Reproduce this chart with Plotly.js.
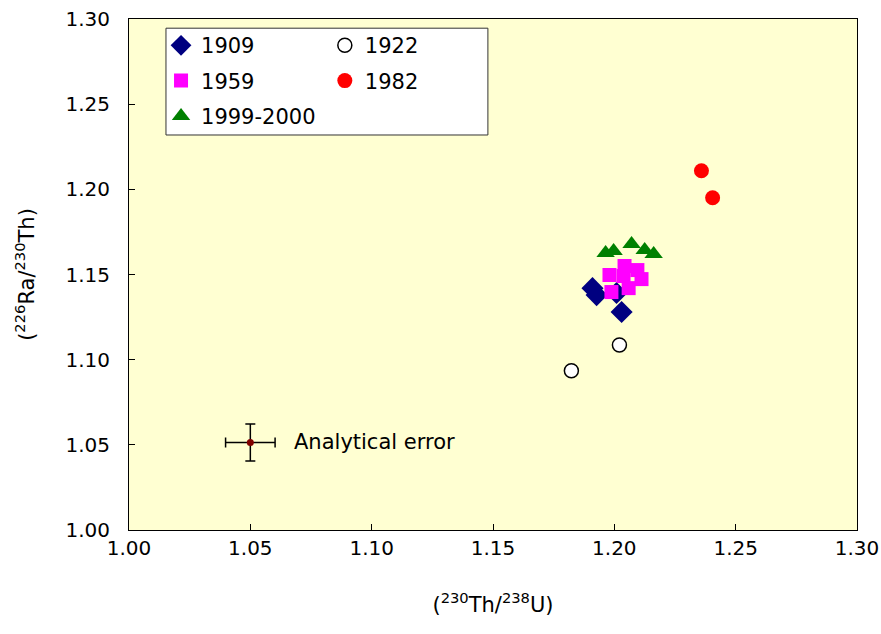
<!DOCTYPE html>
<html><head><meta charset="utf-8">
<script src="https://cdn.plot.ly/plotly-3.0.1.min.js"></script>
<style>html,body{margin:0;padding:0;background:#fff}</style>
</head><body>
<div id="chart" style="width:881px;height:634px"></div>
<script>
const x1909 = [1.1910, 1.1927, 1.2009, 1.2030];
const y1909 = [1.1420, 1.1379, 1.1391, 1.1280];
const x1922 = [1.2021, 1.1823];
const y1922 = [1.1086, 1.0935];
const x1959 = [1.2042, 1.1980, 1.2112, 1.2059, 1.1988, 1.2038, 1.2095];
const y1959 = [1.1550, 1.1497, 1.1473, 1.1420, 1.1397, 1.1491, 1.1526];
const x1982 = [1.2359, 1.2405];
const y1982 = [1.2109, 1.1951];
const x1999 = [1.1964, 1.1997, 1.2071, 1.2125, 1.2162];
const y1999 = [1.1626, 1.1638, 1.1679, 1.1644, 1.1620];
const errX = [1.05], errY = [1.0514], errDx = [0.0102], errDy = [0.0109];
const xTicks = [1.00, 1.05, 1.10, 1.15, 1.20, 1.25, 1.30];
const yTicks = [1.00, 1.05, 1.10, 1.15, 1.20, 1.25, 1.30];

const FONT = 'DejaVu Sans, Arial, sans-serif';

const traces = [
  {x:x1909, y:y1909, name:'1909', mode:'markers', type:'scatter', legend:'legend', legendgroup:'g1',
   marker:{symbol:'diamond', size:17, color:'#000080'}},
  {x:x1959, y:y1959, name:'1959', mode:'markers', type:'scatter', legend:'legend', legendgroup:'g2',
   marker:{symbol:'square', size:14, color:'#FF00FF'}},
  {x:x1999, y:y1999, name:'1999-2000', mode:'markers', type:'scatter', legend:'legend', legendgroup:'g3',
   marker:{symbol:'triangle-up', size:16, color:'#008000'}},
  {x:x1922, y:y1922, name:'1922', mode:'markers', type:'scatter', legend:'legend2', legendgroup:'g4',
   marker:{symbol:'circle', size:14, color:'#FFFFFF', line:{color:'#000000', width:1.5}}},
  {x:x1982, y:y1982, name:'1982', mode:'markers', type:'scatter', legend:'legend2', legendgroup:'g5',
   marker:{symbol:'circle', size:15, color:'#FF0000'}},
  {x:errX, y:errY, mode:'markers', type:'scatter', showlegend:false,
   marker:{symbol:'circle', size:7, color:'#800000'},
   error_x:{type:'data', array:errDx, visible:true, color:'#000000', thickness:1.5, width:5},
   error_y:{type:'data', array:errDy, visible:true, color:'#000000', thickness:1.5, width:5}}
];

const axisBase = {showline:true, linecolor:'#000', linewidth:1, mirror:true, ticks:'inside',
  ticklen:6, tickcolor:'#000', showgrid:false, zeroline:false,
  tickfont:{family:FONT, size:20, color:'#000'}};

const layout = {
  width:881, height:634,
  margin:{l:129, r:24, t:19, b:104},
  paper_bgcolor:'#FFFFFF', plot_bgcolor:'#FFFFD2',
  font:{family:FONT, color:'#000'},
  xaxis:Object.assign({}, axisBase, {range:[1.0, 1.3], tickvals:xTicks,
    ticktext:xTicks.map(v=>v.toFixed(2)), ticklabelstandoff:0,
    title:{text:'(<sup>230</sup>Th/<sup>238</sup>U)', font:{family:FONT, size:21}, standoff:38}}),
  yaxis:Object.assign({}, axisBase, {range:[1.0, 1.3], tickvals:yTicks,
    ticktext:yTicks.map(v=>v.toFixed(2)), ticklabelstandoff:14,
    title:{text:'(<sup>226</sup>Ra/<sup>230</sup>Th)', font:{family:FONT, size:21}, standoff:25}}),
  showlegend:true,
  legend:{x:0.044, y:0.988, xanchor:'left', yanchor:'top', bgcolor:'rgba(0,0,0,0)',
    borderwidth:0, font:{family:FONT, size:21, color:'#000'}, tracegroupgap:5, itemwidth:30},
  legend2:{x:0.269, y:0.988, xanchor:'left', yanchor:'top', bgcolor:'rgba(0,0,0,0)',
    borderwidth:0, font:{family:FONT, size:21, color:'#000'}, tracegroupgap:5, itemwidth:30},
  shapes:[{type:'rect', xref:'paper', yref:'paper', x0:0.0508, x1:0.493, y0:0.773, y1:0.982,
    line:{color:'#333', width:1}, fillcolor:'#FFFFFF', layer:'below'}],
  annotations:[{x:1.0672, y:1.0514, xref:'x', yref:'y', xanchor:'left', yanchor:'middle',
    text:'Analytical error', showarrow:false, font:{family:FONT, size:21, color:'#000'}}]
};
Plotly.newPlot('chart', traces, layout, {displayModeBar:false});
</script>
</body></html>
